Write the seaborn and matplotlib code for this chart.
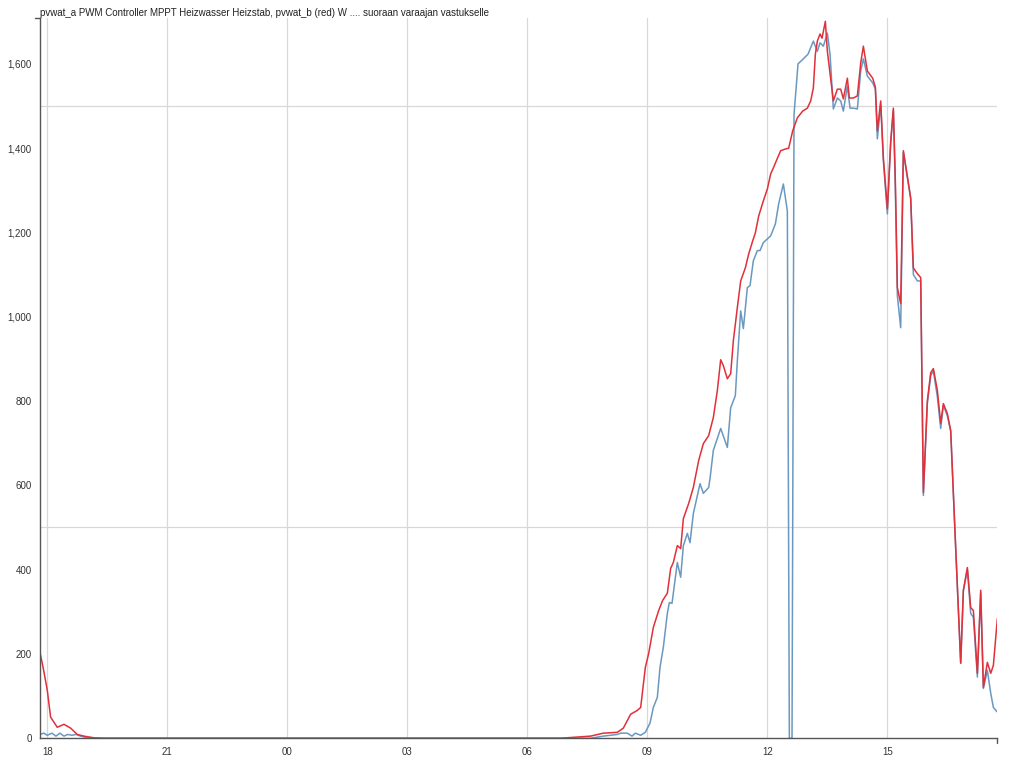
import pandas as pd
import matplotlib
matplotlib.use("Agg")
import matplotlib.pyplot as plt
import matplotlib.dates as mdates
import matplotlib.ticker as ticker
import seaborn as sns

# pvwat_b (red)
red_times = ["17:49", "17:54", "18:00", "18:05", "18:15", "18:25", "18:35", "18:45", "18:55",
             "19:10", "19:25", "06:50", "07:35", "07:54", "08:15", "08:24", "08:35", "08:45",
             "08:50", "08:57", "09:02", "09:09", "09:17", "09:23", "09:30", "09:35", "09:39",
             "09:45", "09:50", "09:54", "10:02", "10:09", "10:17", "10:24", "10:32", "10:39",
             "10:45", "10:50", "10:54", "11:00", "11:05", "11:09", "11:15", "11:20", "11:27",
             "11:32", "11:38", "11:42", "11:47", "11:54", "12:00", "12:05", "12:09", "12:14",
             "12:20", "12:27", "12:32", "12:38", "12:45", "12:53", "13:00", "13:05", "13:09",
             "13:12", "13:15", "13:19", "13:22", "13:27", "13:30", "13:39", "13:45", "13:50",
             "13:54", "14:00", "14:03", "14:09", "14:15", "14:20", "14:24", "14:30", "14:38",
             "14:42", "14:45", "14:50", "14:54", "15:00", "15:05", "15:09", "15:12", "15:15",
             "15:20", "15:24", "15:35", "15:39", "15:45", "15:50", "15:54", "16:00", "16:05",
             "16:09", "16:15", "16:20", "16:24", "16:30", "16:35", "16:42", "16:50", "16:54",
             "17:00", "17:05", "17:09", "17:15", "17:20", "17:24", "17:30", "17:35", "17:39",
             "17:45"]
red_vals = [204, 166, 114, 50, 26, 33, 24, 9, 5,
            1, 0, 0, 5, 12, 14, 24, 57, 66,
            73, 168, 201, 263, 303, 327, 344, 403, 417,
            457, 450, 521, 557, 595, 659, 699, 718, 761,
            825, 898, 884, 853, 865, 943, 1022, 1085, 1116,
            1149, 1180, 1199, 1239, 1275, 1303, 1339, 1353, 1372,
            1394, 1398, 1400, 1441, 1472, 1488, 1495, 1512, 1543,
            1623, 1654, 1671, 1661, 1701, 1630, 1512, 1540, 1540,
            1517, 1566, 1519, 1519, 1524, 1602, 1642, 1583, 1566,
            1545, 1441, 1512, 1377, 1256, 1417, 1495, 1322, 1069,
            1031, 1394, 1282, 1116, 1102, 1093, 583, 801, 867,
            877, 825, 747, 794, 770, 730, 469, 178, 351,
            405, 310, 303, 154, 351, 121, 180, 154, 173,
            284]

# pvwat_a (blue)
blue_times = ["17:49", "17:55", "18:00", "18:07", "18:13", "18:19", "18:25", "18:31", "18:37",
              "18:43", "18:50", "19:00", "19:12", "07:35", "07:54", "08:15", "08:20", "08:30",
              "08:37", "08:42", "08:50", "08:57", "09:04", "09:09", "09:15", "09:19", "09:24",
              "09:30", "09:33", "09:37", "09:45", "09:50", "09:54", "10:00", "10:04", "10:09",
              "10:19", "10:24", "10:32", "10:34", "10:39", "10:50", "11:00", "11:05", "11:12",
              "11:15", "11:20", "11:24", "11:30", "11:34", "11:39", "11:45", "11:49", "11:54",
              "12:05", "12:12", "12:17", "12:24", "12:30", "12:33", "12:37", "12:40", "12:46",
              "12:54", "13:01", "13:09", "13:15", "13:19", "13:24", "13:30", "13:34", "13:39",
              "13:45", "13:50", "13:54", "14:00", "14:04", "14:09", "14:15", "14:20", "14:24",
              "14:30", "14:38", "14:42", "14:45", "14:50", "14:54", "15:00", "15:05", "15:09",
              "15:12", "15:15", "15:20", "15:24", "15:35", "15:39", "15:45", "15:50", "15:54",
              "16:00", "16:05", "16:09", "16:15", "16:20", "16:24", "16:30", "16:35", "16:42",
              "16:50", "16:54", "17:00", "17:05", "17:09", "17:15", "17:20", "17:24", "17:30",
              "17:35", "17:39", "17:45"]
blue_vals = [9, 12, 7, 12, 5, 12, 5, 9, 7,
             9, 5, 1, 0, 0, 5, 9, 12, 12,
             5, 12, 7, 14, 36, 73, 97, 168, 216,
             296, 322, 320, 417, 382, 457, 486, 464, 533,
             604, 581, 595, 616, 683, 735, 690, 784, 813,
             896, 1014, 972, 1069, 1074, 1133, 1157, 1157, 1176,
             1192, 1220, 1268, 1315, 1251, 0, 0, 1480, 1600,
             1612, 1623, 1654, 1630, 1650, 1642, 1673, 1623, 1493,
             1519, 1512, 1488, 1547, 1495, 1495, 1493, 1583, 1612,
             1571, 1555, 1540, 1422, 1505, 1370, 1244, 1410, 1490,
             1300, 1050, 974, 1390, 1280, 1100, 1085, 1085, 576,
             795, 860, 872, 810, 735, 790, 765, 728, 469,
             178, 350, 400, 296, 287, 145, 345, 118, 161,
             107, 73, 62]

y_ticks = [0, 200, 400, 600, 800, 1000, 1200, 1400, 1600]
y_grid = [500, 1000, 1500]
title = "pvwat_a PWM Controller MPPT Heizwasser Heizstab, pvwat_b (red) W .... suoraan varaajan vastukselle"


def to_dt(times):
    # times roll over midnight, so bump the day when the clock goes back
    out = []
    day = pd.Timestamp("2021-06-01")
    prev = None
    for t in times:
        ts = day + pd.Timedelta(hours=int(t[:2]), minutes=int(t[3:]))
        if prev is not None and ts < prev:
            day = day + pd.Timedelta(days=1)
            ts = ts + pd.Timedelta(days=1)
        out.append(ts)
        prev = ts
    return out


df_red = pd.DataFrame({"time": to_dt(red_times), "W": red_vals})
df_blue = pd.DataFrame({"time": to_dt(blue_times), "W": blue_vals})

sns.set_style("white")
plt.rcParams['font.family'] = ['Liberation Sans', 'DejaVu Sans']

fig = plt.figure(figsize=(10.24, 7.65), dpi=100)
ax = fig.add_axes([0.039, 0.035, 0.935, 0.941])

sns.lineplot(data=df_blue, x="time", y="W", color="#6a98c0", linewidth=1.1, ax=ax)
sns.lineplot(data=df_red, x="time", y="W", color="#e0303a", linewidth=1.1, ax=ax)

ax.set_xlim(df_red["time"].iloc[0], df_red["time"].iloc[-1])
ax.set_ylim(0, 1708)

ax.xaxis.set_major_locator(mdates.HourLocator(byhour=range(0, 24, 3)))
ax.xaxis.set_major_formatter(mdates.DateFormatter("%H"))
ax.yaxis.set_major_locator(ticker.FixedLocator(y_ticks))
ax.yaxis.set_major_formatter(ticker.StrMethodFormatter('{x:,.0f}'))
ax.yaxis.set_minor_locator(ticker.FixedLocator(y_grid))

ax.grid(True, which="major", axis="x", color="#d8d8d8", linewidth=0.9)
ax.grid(True, which="minor", axis="y", color="#d8d8d8", linewidth=0.9)
ax.grid(False, which="major", axis="y")

ax.tick_params(axis="both", which="major", labelsize=7, colors="#333333",
               length=4, width=1, direction="out", pad=2)
ax.tick_params(axis="y", which="minor", length=0)

for side in ["top", "right"]:
    ax.spines[side].set_visible(False)
for side in ["left", "bottom"]:
    ax.spines[side].set_color("#555555")
    ax.spines[side].set_linewidth(1)

# outer ticks at the ends of the axes, d3 style
ax.plot([0, -0.005], [1, 1], transform=ax.transAxes, color="#555555", lw=1, clip_on=False)
ax.plot([1, 1], [0, -0.006], transform=ax.transAxes, color="#555555", lw=1, clip_on=False)

ax.set_xlabel("")
ax.set_ylabel("")
fig.text(0.039, 0.99, title, fontsize=7, color="#222222", va="top", ha="left")

fig.savefig("out.png", dpi=100)
